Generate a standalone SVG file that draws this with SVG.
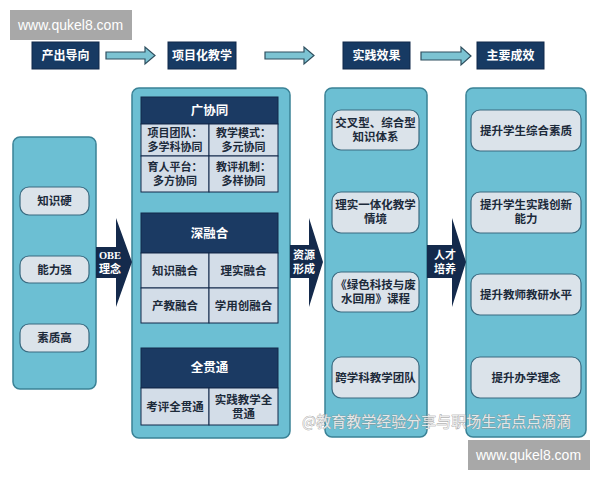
<svg xmlns="http://www.w3.org/2000/svg" width="600" height="480" viewBox="0 0 600 480">
<defs>
<style>
.t{font-family:"Noto Sans CJK SC","Noto Sans",sans-serif;font-weight:bold;text-anchor:middle;}
.hdr rect{fill:#173a63;stroke:#10284a;stroke-width:1;}
.hdr text{fill:#ffffff;font-size:12px;}
.panel{fill:#6cbfd3;stroke:#3a8296;stroke-width:1.5;}
.pill{fill:#dbe3ea;stroke:#3a6a80;stroke-width:1.2;}
.pt{fill:#1c2a3a;font-size:11.5px;}
.ct{fill:#1c2a3a;font-size:11px;}
.gh{fill:#1b3a63;stroke:#13284a;stroke-width:1;}
.gc{fill:#d3dde8;stroke:#13284a;stroke-width:1;}
.ght{fill:#ffffff;font-size:12.5px;}
.arr{fill:#7cc3d2;stroke:#2f4f5f;stroke-width:1.2;}
.big{fill:#142a4c;}
.bt{fill:#ffffff;font-size:11px;}
.wm{fill:#a8a8a8;}
.wmt{font-family:"Liberation Sans",Arial,sans-serif;font-size:14px;fill:#ffffff;}
</style>
</defs>
<rect x="0" y="0" width="600" height="480" fill="#ffffff"/>

<g id="h1" class="hdr t"><rect x="32" y="42" width="67" height="27"/><text x="65.5" y="60">产出导向</text></g>
<g id="h2" class="hdr t"><rect x="168" y="42" width="68" height="27"/><text x="202" y="60">项目化教学</text></g>
<g id="h3" class="hdr t"><rect x="343" y="42" width="67" height="27"/><text x="376.5" y="60">实践效果</text></g>
<g id="h4" class="hdr t"><rect x="477" y="42" width="67" height="27"/><text x="510.5" y="60">主要成效</text></g>

<g id="p1">
<rect class="panel" x="13" y="137" width="83" height="252" rx="7"/>
<rect class="pill" x="20" y="187" width="69" height="28" rx="9"/><text class="t pt" x="54.5" y="205">知识硬</text>
<rect class="pill" x="20" y="256" width="69" height="27" rx="9"/><text class="t pt" x="54.5" y="273.5">能力强</text>
<rect class="pill" x="20" y="324" width="69" height="28" rx="9"/><text class="t pt" x="54.5" y="342">素质高</text>
</g>

<g id="p2">
<rect class="panel" x="132" y="88" width="158" height="350" rx="7"/>
<g id="g1" class="t">
<rect class="gh" x="141" y="97" width="137" height="27"/><text class="ght" x="209.5" y="115">广协同</text>
<rect class="gc" x="141" y="124" width="68" height="32"/><rect class="gc" x="209" y="124" width="69" height="32"/>
<rect class="gc" x="141" y="156" width="68" height="36"/><rect class="gc" x="209" y="156" width="69" height="36"/>
<text class="ct" x="175" y="137">项目团队：<tspan x="175" dy="14">多学科协同</tspan></text>
<text class="ct" x="243.5" y="137">教学模式：<tspan x="243.5" dy="14">多元协同</tspan></text>
<text class="ct" x="175" y="171">育人平台：<tspan x="175" dy="14">多方协同</tspan></text>
<text class="ct" x="243.5" y="171">教评机制：<tspan x="243.5" dy="14">多样协同</tspan></text>
</g>
<g id="g2" class="t">
<rect class="gh" x="141" y="213" width="137" height="40"/><text class="ght" x="209.5" y="238">深融合</text>
<rect class="gc" x="141" y="253" width="68" height="35"/><rect class="gc" x="209" y="253" width="69" height="35"/>
<rect class="gc" x="141" y="288" width="68" height="35"/><rect class="gc" x="209" y="288" width="69" height="35"/>
<text class="pt" x="175" y="275">知识融合</text><text class="pt" x="243.5" y="275">理实融合</text>
<text class="pt" x="175" y="310">产教融合</text><text class="pt" x="243.5" y="310">学用创融合</text>
</g>
<g id="g3" class="t">
<rect class="gh" x="141" y="348" width="137" height="40"/><text class="ght" x="209.5" y="372">全贯通</text>
<rect class="gc" x="141" y="388" width="68" height="37"/><rect class="gc" x="209" y="388" width="69" height="37"/>
<text class="pt" x="175" y="411">考评全贯通</text>
<text class="pt" x="243.5" y="404">实践教学全<tspan x="243.5" dy="14">贯通</tspan></text>
</g>
</g>

<g id="p3">
<rect class="panel" x="325" y="88" width="102" height="349" rx="7"/>
<rect class="pill" x="332" y="110" width="87" height="40" rx="9"/>
<text class="t pt" x="375.5" y="127">交叉型、综合型<tspan x="375.5" dy="14">知识体系</tspan></text>
<rect class="pill" x="332" y="192" width="87" height="41" rx="9"/>
<text class="t pt" x="375.5" y="209">理实一体化教学<tspan x="375.5" dy="14">情境</tspan></text>
<rect class="pill" x="332" y="272" width="87" height="40" rx="9"/>
<text class="t pt" x="375.5" y="289">《绿色科技与废<tspan x="375.5" dy="14">水回用》课程</tspan></text>
<rect class="pill" x="332" y="357" width="87" height="41" rx="9"/>
<text class="t pt" x="375.5" y="382">跨学科教学团队</text>
</g>

<g id="p4">
<rect class="panel" x="466" y="88" width="120" height="349" rx="7"/>
<rect class="pill" x="471" y="110" width="110" height="41" rx="9"/>
<text class="t pt" x="526" y="135">提升学生综合素质</text>
<rect class="pill" x="471" y="192" width="110" height="41" rx="9"/>
<text class="t pt" x="526" y="209">提升学生实践创新<tspan x="526" dy="14">能力</tspan></text>
<rect class="pill" x="471" y="274" width="110" height="41" rx="9"/>
<text class="t pt" x="526" y="299">提升教师教研水平</text>
<rect class="pill" x="471" y="357" width="110" height="41" rx="9"/>
<text class="t pt" x="526" y="382">提升办学理念</text>
</g>

<g id="connectors">
<path class="arr" d="M106,52 H145 V47 L155,55.5 L145,64 V59 H106 Z"/>
<path class="arr" d="M265,52 H304 V47 L314,55.5 L304,64 V59 H265 Z"/>
<path class="arr" d="M421,52 H461 V47 L471,56 L461,65 V60 H421 Z"/>
<g class="t">
<path class="big" d="M96,247 H116 V218 L132,262 L116,307 V278 H96 Z"/>
<text class="bt" x="110" y="259"><tspan style="font-family:'Liberation Serif',serif;font-size:10.5px">OBE</tspan><tspan x="110" dy="14">理念</tspan></text>
<path class="big" d="M290,245 H309 V218 L323,262 L309,307 V278 H290 Z"/>
<text class="bt" x="304" y="259">资源<tspan x="304" dy="14">形成</tspan></text>
<path class="big" d="M427,245 H452 V218 L466,262 L452,307 V278 H427 Z"/>
<text class="bt" x="445" y="259">人才<tspan x="445" dy="14">培养</tspan></text>
</g>
</g>

<text x="302" y="427" style="font-family:'Noto Sans CJK SC',sans-serif;font-size:15px;fill:#f2f2f2;fill-opacity:0.9;stroke:#8f8f8f;stroke-width:0.6;paint-order:stroke">@教育教学经验分享与职场生活点点滴滴</text>
<rect class="wm" x="10" y="10" width="122" height="30"/>
<text class="wmt" x="18" y="30">www.qukel8.com</text>
<rect class="wm" x="468" y="440" width="122" height="30"/>
<text class="wmt" x="476" y="460">www.qukel8.com</text>
</svg>
